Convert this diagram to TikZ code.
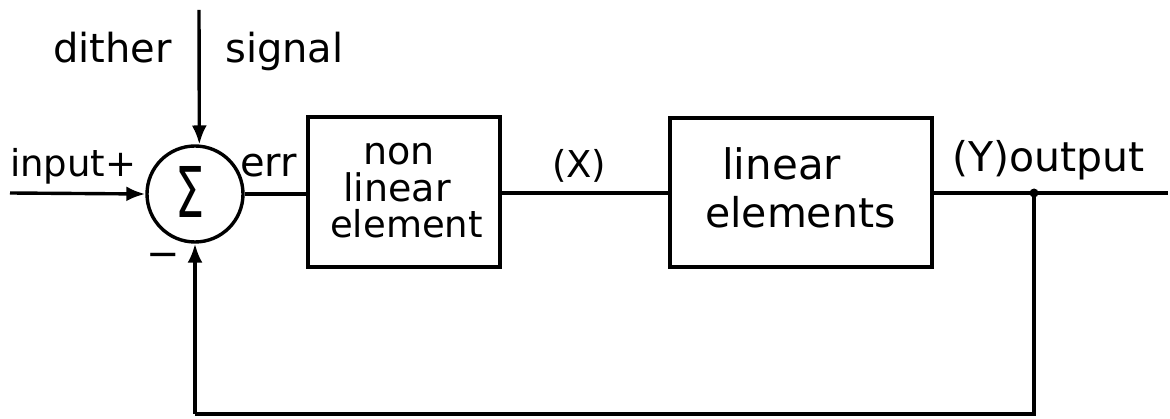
\documentclass[tikz,border=0pt]{standalone}
\usepackage{fontspec}
\setmainfont{DejaVu Sans}
\usetikzlibrary{arrows.meta}
\tikzset{
  wire/.style={line width=3.4pt},
  arr/.style={wire,-{Latex[length=19pt,width=15pt]}},
  block/.style={draw,line width=3.4pt,rectangle,minimum width=#1},
  lbl/.style={inner sep=0pt,anchor=base west,font=\fontsize{40}{48}\selectfont},
}
\begin{document}
\begin{tikzpicture}[x=1pt,y=-1pt]
\useasboundingbox (0,0) rectangle (1170,419);

% summing junction
\node[draw,circle,line width=3.4pt,minimum size=96pt,inner sep=0pt] (sum) at (195,194) {};
\node[inner sep=0pt,xscale=0.66,font=\fontsize{70}{70}\selectfont] (sigma) at (190,192) {Σ};

% blocks
\node[block=192pt,minimum height=150pt,inner sep=0pt] (nl) at (404,192) {};
\node[block=262pt,minimum height=149pt,inner sep=0pt] (lin) at (801,192.5) {};

% free ends
\coordinate (inp) at (10,193);
\coordinate (dtop) at (199,10);
\coordinate (outp) at (1168,193);
\coordinate (tap) at (1034,193);
\coordinate (cornR) at (1034,414);
\coordinate (cornL) at (195,414);

% connectors
\draw[arr] (inp) -- (sum.west);
\draw[arr] (dtop) -- (sum.85);
\draw[wire] (sum.east) -- (nl.west |- sum.east);
\draw[wire] (nl.east |- 0,193) -- (lin.west |- 0,193);
\draw[wire] (lin.east |- outp) -- (outp);
\draw[wire,line join=miter] (tap) -- (cornR) -- (cornL);
\draw[arr] (cornL) -- (sum.south);
\fill (tap) circle (4.5pt);

% labels
\node[lbl,font=\fontsize{37}{44}\selectfont] (tinput) at (10,177) {input+};
\node[lbl] (tdither) at (53,63) {dither};
\node[lbl] (tsignal) at (225,63) {signal};
\node[lbl] (terr) at (240,177) {err};
\node[inner sep=0pt,font=\fontsize{40}{48}\selectfont] (tminus) at (163,260) {−};
\node[lbl,font=\fontsize{37}{44}\selectfont] (tx) at (552,178) {(X)};
\node[lbl,font=\fontsize{41}{48}\selectfont] (ty) at (952,172) {(Y)output};

% block texts
\node[lbl,font=\fontsize{38}{44}\selectfont] (tnon) at (363,165) {non};
\node[lbl,font=\fontsize{38}{44}\selectfont] (tlinA) at (343,202) {linear};
\node[lbl,font=\fontsize{37}{44}\selectfont] (telem) at (330,238) {element};
\node[lbl,font=\fontsize{42}{48}\selectfont] (tlinB) at (722,180) {linear};
\node[lbl,font=\fontsize{41}{48}\selectfont] (telems) at (705,228) {elements};
\end{tikzpicture}
\end{document}
